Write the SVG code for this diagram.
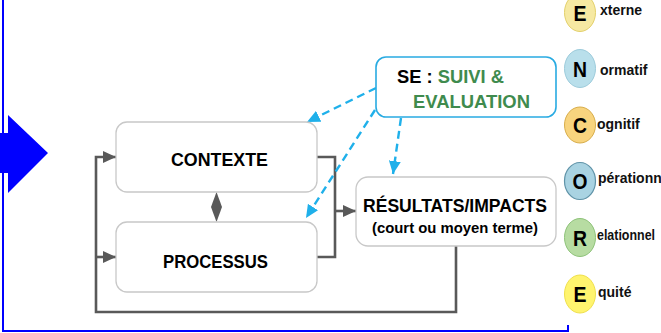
<svg xmlns="http://www.w3.org/2000/svg" width="661" height="333" viewBox="0 0 661 333">
<defs>
<style>
.box{fill:#fff;stroke:#c8c8c8;stroke-width:1.3}
.se{fill:#fff;stroke:#29abe2;stroke-width:1.6}
.t{font-family:"Liberation Sans",Arial,sans-serif;font-weight:bold;fill:#000}
.g{fill:#3f8b4e}
.gl{fill:none;stroke:#595959;stroke-width:2.6}
.bl{fill:none;stroke:#1fb0ea;stroke-width:2.4;stroke-dasharray:8 5}
.blue{fill:none;stroke:#0000ff;stroke-width:2}
.lt{font-family:"Liberation Sans",Arial,sans-serif;font-weight:bold;font-size:22px;fill:#000;text-anchor:middle}
.lb{font-family:"Liberation Sans",Arial,sans-serif;font-weight:bold;font-size:14px;fill:#111}
</style>
<marker id="ga" markerUnits="userSpaceOnUse" markerWidth="14" markerHeight="12" refX="13" refY="6" orient="auto">
<path d="M0,0 L13,6 L0,12 Z" fill="#595959"/>
</marker>
<marker id="ba" markerUnits="userSpaceOnUse" markerWidth="14" markerHeight="12" refX="13" refY="6" orient="auto">
<path d="M0,0 L13,6 L0,12 Z" fill="#1fb0ea"/>
</marker>
</defs>
<rect width="661" height="333" fill="#fff"/>

<g id="frame">
<path class="blue" d="M3,0 V331 H568 V325"/>
<polygon points="0,133 8,133 8,115 48,153 8,193 8,173 0,173" fill="#0000ff"/>
</g>

<g id="connectors">
<path class="gl" d="M317,157 H335 V257 H317"/>
<path class="gl" d="M335,211 H356" marker-end="url(#ga)"/>
<path class="gl" d="M456,246 V312 H96 V157 H116" marker-end="url(#ga)"/>
<path class="gl" d="M96,257 H116" marker-end="url(#ga)"/>
<polygon points="216.5,192 222,207 216.5,222 211,207" fill="#595959"/>
<path class="bl" d="M376,88 L307,122" marker-end="url(#ba)"/>
<path class="bl" d="M375,110 L306,218" marker-end="url(#ba)"/>
<path class="bl" d="M401,118 L393,174" marker-end="url(#ba)"/>
</g>

<g id="contexte">
<rect class="box" x="116" y="122" width="201" height="70" rx="11"/>
<text class="t" x="219.5" y="166" font-size="18" text-anchor="middle" textLength="97" lengthAdjust="spacingAndGlyphs">CONTEXTE</text>
</g>

<g id="processus">
<rect class="box" x="116" y="222" width="201" height="70" rx="11"/>
<text class="t" x="215.5" y="268" font-size="18" text-anchor="middle" textLength="105" lengthAdjust="spacingAndGlyphs">PROCESSUS</text>
</g>

<g id="resultats">
<rect class="box" x="356" y="177" width="200" height="69" rx="12"/>
<text class="t" x="455" y="212" font-size="18" text-anchor="middle" textLength="184" lengthAdjust="spacingAndGlyphs">RÉSULTATS/IMPACTS</text>
<text class="t" x="455" y="233" font-size="14" text-anchor="middle" textLength="166" lengthAdjust="spacingAndGlyphs">(court ou moyen terme)</text>
</g>

<g id="se">
<rect class="se" x="376" y="57" width="180" height="60" rx="10"/>
<text class="t" x="397" y="83" font-size="18" textLength="107" lengthAdjust="spacingAndGlyphs">SE : <tspan class="g">SUIVI &amp;</tspan></text>
<text class="t g" x="413" y="108" font-size="18" textLength="117" lengthAdjust="spacingAndGlyphs">EVALUATION</text>
</g>

<g id="legend-e1">
<ellipse cx="580" cy="12.5" rx="15.5" ry="19" fill="#f6e9a2" stroke="#e3d06a" stroke-width="1"/>
<text class="lt" x="580" y="20.5" textLength="13" lengthAdjust="spacingAndGlyphs">E</text>
<text class="lb" x="600" y="15">xterne</text>
</g>
<g id="legend-n">
<ellipse cx="580" cy="68.5" rx="15.5" ry="19" fill="#b9dfeb" stroke="#9ccbdb" stroke-width="1"/>
<text class="lt" x="580" y="77" textLength="14" lengthAdjust="spacingAndGlyphs">N</text>
<text class="lb" x="600" y="75">ormatif</text>
</g>
<g id="legend-c">
<ellipse cx="580" cy="125" rx="15.5" ry="18" fill="#f8d47e" stroke="#d8ae4c" stroke-width="1"/>
<text class="lt" x="580" y="133" textLength="14" lengthAdjust="spacingAndGlyphs">C</text>
<text class="lb" x="597" y="129">ognitif</text>
</g>
<g id="legend-o">
<ellipse cx="580" cy="181" rx="15.5" ry="18.5" fill="#a9d3e2" stroke="#5f93a8" stroke-width="1.2"/>
<text class="lt" x="580" y="189" textLength="15" lengthAdjust="spacingAndGlyphs">O</text>
<text class="lb" x="598" y="183">pérationn</text>
</g>
<g id="legend-r">
<ellipse cx="580" cy="237.5" rx="15.5" ry="19" fill="#b7dca2" stroke="#8dc278" stroke-width="1"/>
<text class="lt" x="580" y="245.5" textLength="14" lengthAdjust="spacingAndGlyphs">R</text>
<text class="lb" x="597" y="240" font-size="13" textLength="58" lengthAdjust="spacingAndGlyphs">elationnel</text>
</g>
<g id="legend-e2">
<ellipse cx="580" cy="294" rx="15.5" ry="19" fill="#fff46e" stroke="#efe04c" stroke-width="1"/>
<text class="lt" x="580" y="302" textLength="13" lengthAdjust="spacingAndGlyphs">E</text>
<text class="lb" x="598" y="297">quité</text>
</g>
</svg>
